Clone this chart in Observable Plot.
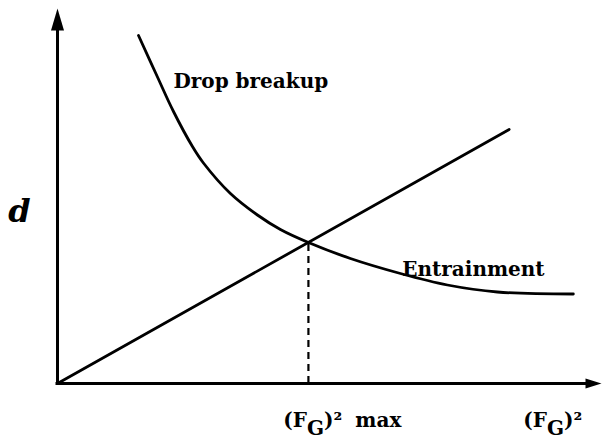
<!DOCTYPE html>
<html>
<head>
<meta charset="utf-8">
<script src="https://cdn.jsdelivr.net/npm/d3@7"></script>
<script src="https://cdn.jsdelivr.net/npm/@observablehq/plot@0.6"></script>
<style>
  body { margin: 0; background: #fff; }
  svg { display: block; }
</style>
</head>
<body>
<div id="chart"></div>
<script>
// Drop-breakup curve: drop size d falling as (F_G)^2 grows
const breakupX = [1.614, 1.992, 2.311, 2.689, 2.908, 3.446, 3.984, 4.442, 5.000, 5.837, 6.833, 7.769, 8.765, 10.279];
const breakupY = [6.96, 6.13, 5.44, 4.74, 4.41, 3.80, 3.37, 3.08, 2.82, 2.50, 2.20, 1.97, 1.83, 1.79];

// Entrainment line, straight through the origin
const entrainX = [0, 9.0];
const entrainY = [0, 5.08];

// Where the two meet: (F_G)^2 max
const crossX = [5.0];
const crossY = [2.82];

// Axis extents (arrow tips)
const axisEndX = 10.84;
const axisEndY = 7.5;

// Text labels
const labelText = ["Drop breakup", "Entrainment", "d", "(F_G)² max", "(F_G)²"];
const labelX = [2.31, 6.87, -0.76, 4.50, 9.28];
const labelY = [5.92, 2.16, 3.24, -0.86, -0.86];

const breakup = breakupX.map((x, i) => ({x, y: breakupY[i]}));
const entrain = entrainX.map((x, i) => ({x, y: entrainY[i]}));
const cross = crossX.map((x, i) => ({x, y: crossY[i]}));
const labels = labelText.map((text, i) => ({text, x: labelX[i], y: labelY[i]}));

// Filled arrowheads with the tip at the symbol origin
const arrowUp = {draw(ctx) { ctx.moveTo(0, 0); ctx.lineTo(6.5, 22); ctx.lineTo(-6.5, 22); ctx.closePath(); }};
const arrowRight = {draw(ctx) { ctx.moveTo(0, 0); ctx.lineTo(-16, 5); ctx.lineTo(-16, -5); ctx.closePath(); }};

const font = "'DejaVu Serif', serif";

const chart = Plot.plot({
  width: 602,
  height: 441,
  marginLeft: 57,
  marginRight: 1,
  marginTop: 8,
  marginBottom: 58,
  x: {domain: [0, axisEndX], axis: null},
  y: {domain: [0, axisEndY], axis: null},
  style: {background: "#fff", fontFamily: font},
  marks: [
    // axes
    Plot.ruleY([0], {x1: 0, x2: axisEndX - 0.25, stroke: "black", strokeWidth: 3, strokeLinecap: "square"}),
    Plot.ruleX([0], {y1: 0, y2: axisEndY - 0.35, stroke: "black", strokeWidth: 3, strokeLinecap: "square"}),
    Plot.dot([{x: axisEndX, y: 0}], {x: "x", y: "y", symbol: arrowRight, fill: "black", stroke: "none"}),
    Plot.dot([{x: 0, y: axisEndY}], {x: "x", y: "y", symbol: arrowUp, fill: "black", stroke: "none"}),
    // curves
    Plot.line(breakup, {x: "x", y: "y", curve: "catmull-rom", stroke: "black", strokeWidth: 2.8}),
    Plot.line(entrain, {x: "x", y: "y", stroke: "black", strokeWidth: 2.8}),
    // dashed drop line to the x axis
    Plot.ruleX(cross, {x: "x", y1: 0, y2: "y", stroke: "black", strokeWidth: 2.2, strokeDasharray: "7,5"}),
    // labels
    Plot.text(labels.filter(d => d.text !== "d"), {
      x: "x", y: "y", text: "text", textAnchor: "start", lineAnchor: "bottom",
      fontSize: 20, fontWeight: "bold", fill: "black"
    }),
    Plot.text(labels.filter(d => d.text === "d"), {
      x: "x", y: "y", text: "text", textAnchor: "middle", lineAnchor: "bottom",
      fontSize: 32, fontWeight: "bold", fontStyle: "italic", fill: "black"
    })
  ]
});

// Turn "F_G" into F with a lowered G
d3.select(chart).selectAll("text").each(function() {
  const s = this.textContent;
  const m = s.match(/^(.*)_(\w)(.*)$/);
  if (!m) return;
  const t = d3.select(this);
  t.text(null);
  t.append("tspan").text(m[1]);
  t.append("tspan").attr("dy", "0.4em").text(m[2]);
  t.append("tspan").attr("dy", "-0.4em").attr("word-spacing", "6").text(m[3]);
});

document.getElementById("chart").appendChild(chart);
</script>
</body>
</html>
